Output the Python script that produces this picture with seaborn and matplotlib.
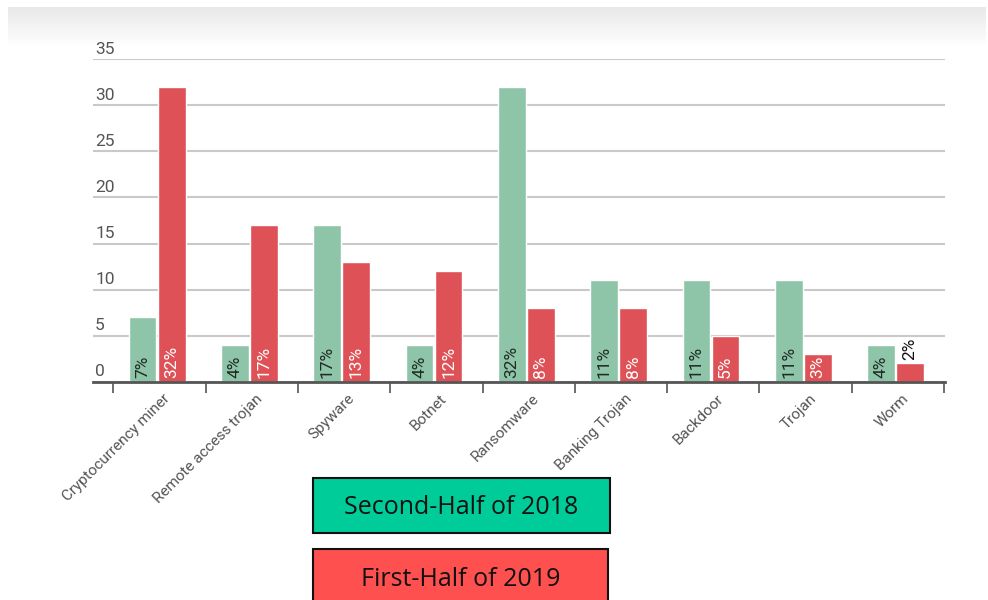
import numpy as np
import pandas as pd
import matplotlib
matplotlib.use("Agg")
import matplotlib.pyplot as plt
import matplotlib.patches as mpatches
import matplotlib.transforms as mtransforms
import seaborn as sns

categories = ["Cryptocurrency miner", "Remote access trojan", "Spyware", "Botnet",
              "Ransomware", "Banking Trojan", "Backdoor", "Trojan", "Worm"]
h2_2018 = [7, 4, 17, 4, 32, 11, 11, 11, 4]
h1_2019 = [32, 17, 13, 12, 8, 8, 5, 3, 2]
series_names = ["Second-Half of 2018", "First-Half of 2019"]
y_ticks = [0, 5, 10, 15, 20, 25, 30, 35]

bar_colors = ["#8ec4a7", "#de5257"]
legend_colors = ["#00cc99", "#ff5050"]

df = pd.DataFrame({
    "category": categories * 2,
    "value": h2_2018 + h1_2019,
    "period": [series_names[0]] * len(categories) + [series_names[1]] * len(categories),
})

sns.set_theme(style="white")
plt.rcParams["font.family"] = ["Roboto", "DejaVu Sans"]

fig = plt.figure(figsize=(9.88, 6.0), dpi=100)

# top gradient band
bg = fig.add_axes([8 / 988, 1 - 48 / 600, 977 / 988, 41 / 600], zorder=-10)
grad = np.linspace(0.91, 1.0, 64).reshape(-1, 1)
bg.imshow(grad, aspect="auto", cmap="gray", vmin=0, vmax=1, extent=[0, 1, 1, 0])
bg.set_axis_off()

ax = fig.add_axes([93 / 988, 1 - 381.7 / 600, (945 - 93) / 988, (381.7 - 59.3) / 600])
ax.set_facecolor("none")

sns.barplot(data=df, x="category", y="value", hue="period", order=categories,
            hue_order=series_names, palette=bar_colors, width=0.63, gap=0.05,
            saturation=1, legend=False, ax=ax, zorder=3)

ax.set_ylim(0, 35)
ax.set_xlim(-0.695, 8.535)
ax.set_xlabel("")
ax.set_ylabel("")

# gridlines
ax.set_yticks(y_ticks)
ax.yaxis.grid(True, color="#c9c9c9", linewidth=1.5, zorder=0)
ax.set_axisbelow(True)
ax.tick_params(axis="y", length=0, labelleft=False)
ytrans = mtransforms.blended_transform_factory(ax.transAxes, ax.transData)
for t in y_ticks:
    ax.annotate(str(t), xy=(0, t), xycoords=ytrans, xytext=(1.5, 2),
                textcoords="offset points", ha="left", va="bottom",
                fontsize=12.5, color="#555555")

for s in ["top", "right", "left"]:
    ax.spines[s].set_visible(False)
ax.spines["bottom"].set_color("#555555")
ax.spines["bottom"].set_linewidth(2)
ax.spines["bottom"].set_zorder(5)

# x ticks: labels at centers, tick marks at boundaries
ax.set_xticks(range(len(categories)))
ax.set_xticklabels(categories, rotation=45, ha="right", rotation_mode="anchor",
                   fontsize=11, color="#555555")
ax.tick_params(axis="x", which="major", length=0, pad=7)
ax.set_xticks(np.arange(-0.5, len(categories), 1.0) + 0.025, minor=True)
ax.tick_params(axis="x", which="minor", length=8, width=1.2, color="#555555",
               bottom=True, direction="out")
for lbl in ax.get_xticklabels():
    lbl.set_transform(lbl.get_transform() + mtransforms.ScaledTranslation(4 / 72, 0, fig.dpi_scale_trans))

# value labels
bars = [p for p in ax.patches if p.get_height() > 0]
n = len(categories)
for i, p in enumerate(bars):
    v = p.get_height()
    series = 0 if i < n else 1
    x = p.get_x() + p.get_width() / 2
    txt = f"{int(round(v))}%"
    if v < 2.5:
        ax.annotate(txt, xy=(x, v), xytext=(0, 2), textcoords="offset points",
                    rotation=90, ha="center", va="bottom", fontsize=12.5,
                    color="#111111", zorder=6)
    else:
        ax.annotate(txt, xy=(x, 0), xytext=(0, 3), textcoords="offset points",
                    rotation=90, ha="center", va="bottom", fontsize=12.5,
                    color="#1f2a24" if series == 0 else "white", zorder=6)

# legend boxes
legend_boxes = [
    (313, 478, 297, 55),
    (313, 549, 295, 60),
]
for (x0, y0, w, h), name, col in zip(legend_boxes, series_names, legend_colors):
    rect = mpatches.Rectangle((x0 / 988, 1 - (y0 + h) / 600), w / 988, h / 600,
                              transform=fig.transFigure, facecolor=col,
                              edgecolor="#111111", linewidth=1.5, zorder=10)
    fig.patches.append(rect)
texts_y = [507, 579]
for name, ty in zip(series_names, texts_y):
    fig.text(461 / 988, 1 - ty / 600, name, ha="center", va="center",
             fontsize=18, color="#111111", family=["Open Sans", "DejaVu Sans"], zorder=11)

fig.savefig("out.png", dpi=100, facecolor="white")
